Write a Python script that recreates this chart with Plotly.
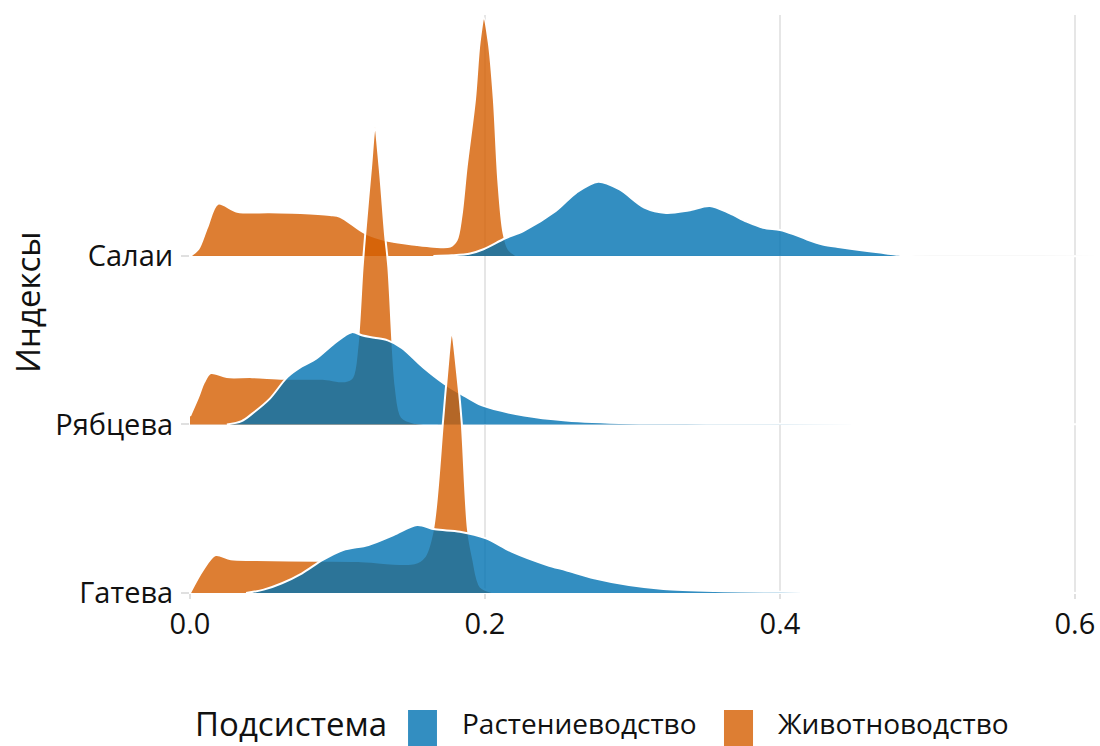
import plotly.graph_objects as go

# ---------------- data ----------------
categories = ["Гатева", "Рябцева", "Салаи"]
series_names = ["Растениеводство", "Животноводство"]
x_ticks = [0.0, 0.2, 0.4, 0.6]
x_tick_labels = ["0.0", "0.2", "0.4", "0.6"]

# Салаи
salai_liv_x = [0.000, 0.0056, 0.0116, 0.0189, 0.032, 0.054, 0.075, 0.095, 0.1017, 0.1186,
               0.1333, 0.1537, 0.165, 0.1763, 0.1808, 0.184, 0.1876, 0.1932, 0.1964, 0.1993,
               0.2025, 0.206, 0.209, 0.2125, 0.216, 0.222]
salai_liv_y = [0.0, 0.04, 0.168, 0.31, 0.263, 0.259, 0.255, 0.243, 0.233, 0.135,
               0.091, 0.065, 0.055, 0.056, 0.095, 0.233, 0.53, 0.926, 1.27, 1.41,
               1.27, 0.93, 0.45, 0.14, 0.04, 0.0]
salai_crop_x = [0.165, 0.1775, 0.190, 0.199, 0.2138, 0.226, 0.248, 0.262, 0.2768, 0.291,
                0.308, 0.3228, 0.338, 0.3525, 0.366, 0.3774, 0.3886, 0.400, 0.409, 0.418,
                0.429, 0.4407, 0.454, 0.468, 0.478, 0.489, 0.62]
salai_crop_y = [0.0, 0.004, 0.015, 0.04, 0.105, 0.148, 0.267, 0.376, 0.441, 0.396,
                0.287, 0.255, 0.27, 0.297, 0.253, 0.204, 0.168, 0.154, 0.13, 0.099,
                0.068, 0.052, 0.036, 0.02, 0.009, 0.0, 0.0]

# Рябцева
ryab_liv_x = [0.0, 0.0056, 0.0095, 0.014, 0.025, 0.042, 0.0637, 0.090, 0.105, 0.110,
              0.1135, 0.117, 0.119, 0.1228, 0.1254, 0.1285, 0.1322, 0.1345, 0.1375, 0.1395,
              0.1436, 0.153, 0.168]
ryab_liv_y = [0.05, 0.162, 0.25, 0.305, 0.281, 0.281, 0.271, 0.271, 0.257, 0.28,
              0.46, 0.93, 1.15, 1.53, 1.763, 1.53, 1.13, 0.93, 0.45, 0.22,
              0.044, 0.008, 0.0]
ryab_crop_x = [0.025, 0.035, 0.042, 0.054, 0.066, 0.0758, 0.0855, 0.0976, 0.1097, 0.117,
               0.125, 0.134, 0.1436, 0.158, 0.1726, 0.1837, 0.198, 0.2265, 0.255, 0.298,
               0.35, 0.40, 0.48, 0.62]
ryab_crop_y = [0.0, 0.02, 0.063, 0.152, 0.281, 0.344, 0.39, 0.479, 0.548, 0.528,
               0.515, 0.499, 0.455, 0.34, 0.241, 0.182, 0.113, 0.053, 0.024, 0.008,
               0.005, 0.004, 0.003, 0.001]

# Гатева
gat_liv_x = [0.0, 0.0087, 0.0173, 0.0277, 0.045, 0.0865, 0.114, 0.152, 0.159, 0.1647,
             0.1714, 0.1738, 0.1775, 0.1818, 0.1843, 0.1885, 0.192, 0.197, 0.2076]
gat_liv_y = [0.0, 0.136, 0.225, 0.2, 0.196, 0.192, 0.19, 0.176, 0.216, 0.374,
             1.003, 1.246, 1.531, 1.246, 1.003, 0.374, 0.2, 0.037, 0.0]
gat_crop_x = [0.038, 0.05, 0.0623, 0.076, 0.09, 0.1038, 0.121, 0.138, 0.154, 0.166,
              0.183, 0.2007, 0.218, 0.242, 0.255, 0.274, 0.2976, 0.321, 0.356, 0.40,
              0.45, 0.52, 0.62]
gat_crop_y = [0.0, 0.02, 0.058, 0.117, 0.196, 0.255, 0.285, 0.344, 0.404, 0.378,
              0.364, 0.324, 0.245, 0.166, 0.135, 0.087, 0.047, 0.024, 0.012, 0.007,
              0.004, 0.002, 0.0]

# ---------------- style ----------------
CROP_FILL = "rgba(0,114,178,0.8)"
LIV_FILL = "rgba(213,94,0,0.8)"
CROP_SOLID = "#338ec1"
LIV_SOLID = "#dd7e33"
FONT = "Open Sans"
TXT = "#111111"

# (category index, livestock x, livestock y, crop x, crop y), drawn top ridge first
ridges = [
    (2, salai_liv_x, salai_liv_y, salai_crop_x, salai_crop_y),
    (1, ryab_liv_x, ryab_liv_y, ryab_crop_x, ryab_crop_y),
    (0, gat_liv_x, gat_liv_y, gat_crop_x, gat_crop_y),
]

fig = go.Figure()


def add_ridge(xs, hs, base, fill, name):
    fig.add_trace(go.Scatter(x=[xs[0], xs[-1]], y=[base, base], mode="lines",
                             line=dict(width=0), hoverinfo="skip", showlegend=False))
    fig.add_trace(go.Scatter(x=xs, y=[base + h for h in hs], mode="lines",
                             line=dict(color="white", width=2, shape="spline", smoothing=0.9),
                             fill="tonexty", fillcolor=fill, name=name, showlegend=False))


for idx, lx, ly, cx, cy in ridges:
    base = idx + 1
    add_ridge(lx, ly, base, LIV_FILL, series_names[1])
    add_ridge(cx, cy, base, CROP_FILL, series_names[0])

fig.update_layout(
    width=1100, height=746,
    margin=dict(l=190, r=0, t=15, b=153),
    paper_bgcolor="white", plot_bgcolor="white",
    font=dict(family=FONT, color=TXT, size=28),
    showlegend=False,
    xaxis=dict(range=[0, 0.617], tickvals=x_ticks, ticktext=x_tick_labels,
               showgrid=True, gridcolor="#e6e6e6", gridwidth=2, zeroline=False,
               showline=False, ticks="outside", ticklen=5, tickwidth=2, tickcolor="#e0e0e0",
               tickfont=dict(size=29, color=TXT, family=FONT)),
    yaxis=dict(range=[1, 4.43], tickvals=[1, 2, 3], ticktext=categories,
               showgrid=True, gridcolor="#f0f0f0", gridwidth=1, zeroline=False,
               showline=False, ticks="outside", ticklen=8, tickwidth=2, tickcolor="#e0e0e0",
               ticklabelstandoff=2,
               tickfont=dict(size=29, color=TXT, family=FONT)),
)

# axis title
fig.add_annotation(text="Индексы", xref="paper", yref="paper", x=-0.178, y=0.5035,
                   textangle=-90, showarrow=False, xanchor="center", yanchor="middle",
                   font=dict(size=33, color=TXT, family=FONT))

# legend (bottom)
LEG_Y = -0.225
fig.add_annotation(text="Подсистема", xref="paper", yref="paper", x=0.0033, y=LEG_Y,
                   showarrow=False, xanchor="left", yanchor="middle",
                   font=dict(size=33, color=TXT, family=FONT))
legend_items = [(series_names[0], CROP_SOLID, 0.2396, 0.2714, 0.2967),
                (series_names[1], LIV_SOLID, 0.5868, 0.6187, 0.6440)]
for label, col, sx0, sx1, tx in legend_items:
    fig.add_shape(type="rect", xref="paper", yref="paper", x0=sx0, x1=sx1,
                  y0=-0.27, y1=-0.2025, fillcolor=col, line=dict(width=0))
    fig.add_annotation(text=label, xref="paper", yref="paper", x=tx, y=LEG_Y,
                       showarrow=False, xanchor="left", yanchor="middle",
                       font=dict(size=28, color=TXT, family=FONT))

fig.write_html("out.html", config={"displayModeBar": False},
               post_script="document.body.style.margin='0';document.body.style.overflow='hidden';")
